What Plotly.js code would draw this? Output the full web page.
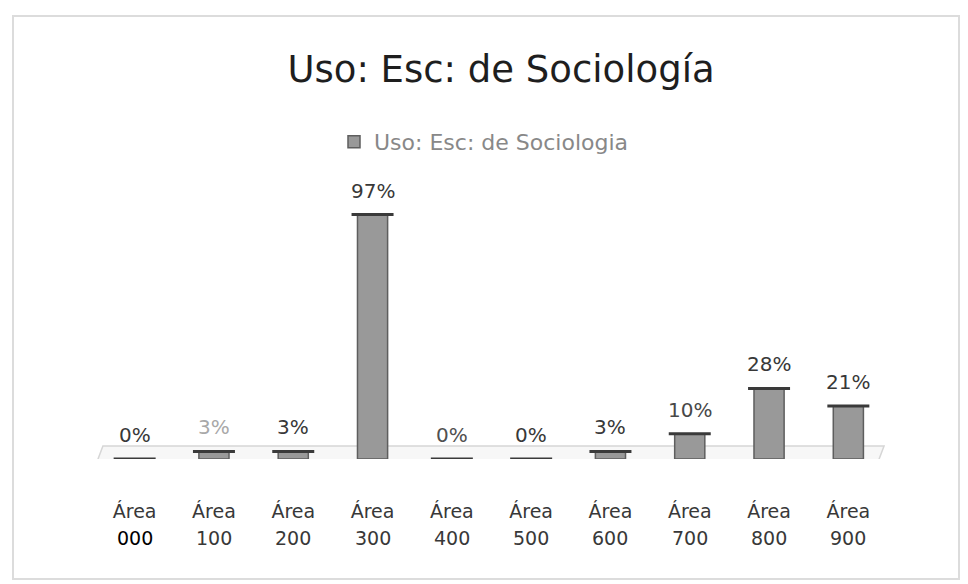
<!DOCTYPE html>
<html>
<head>
<meta charset="utf-8">
<script src="https://cdn.plot.ly/plotly-3.0.1.min.js"></script>
<style>
  body { margin: 0; background: #fff; }
  #wrap { position: relative; width: 968px; height: 584px; }
  #gd { width: 968px; height: 584px; }
  #frame { position: absolute; left: 12px; top: 15px; width: 944px; height: 561px;
           border: 2px solid #dcdcdc; pointer-events: none; }
</style>
</head>
<body>
<div id="wrap">
  <div id="gd"></div>
  <div id="frame"></div>
</div>
<script>
// data
const areas = ['000', '100', '200', '300', '400', '500', '600', '700', '800', '900'];
const usos = [0, 3, 3, 97, 0, 0, 3, 10, 28, 21];
const labelColors = ['#383838', '#a8a8a8', '#383838', '#383838', '#505050',
                     '#383838', '#383838', '#484848', '#383838', '#383838'];
const areaColors = ['#000000', '#383838', '#383838', '#383838', '#383838',
                    '#383838', '#383838', '#383838', '#383838', '#383838'];

const FONT = '"DejaVu Sans", sans-serif';
const categories = areas.map((a) => 'Área ' + a);
const serieName = 'Uso: Esc: de Sociologia';

const barTrace = {
    type: 'bar',
    name: serieName,
    x: categories,
    y: usos,
    width: 0.38,
    marker: { color: '#999999', line: { color: '#5e5e5e', width: 1.5 } },
    hoverinfo: 'x+y',
};

// flat top of each cylinder (also gives the dark disc on the 0% bars)
const capTrace = {
    type: 'scatter',
    mode: 'markers',
    x: categories,
    y: usos,
    showlegend: false,
    hoverinfo: 'skip',
    marker: { symbol: 'line-ew-open', size: 30, color: '#3a3a3a',
              line: { color: '#3a3a3a', width: 3 } },
};

const valueLabels = usos.map((v, i) => ({
    x: categories[i],
    y: v,
    xref: 'x',
    yref: 'y',
    text: v + '%',
    showarrow: false,
    yanchor: 'bottom',
    yshift: 10,
    font: { family: FONT, size: 20, color: labelColors[i] },
}));

// second line of the category labels (number under "Área")
const numberLabels = areas.map((a, i) => ({
    x: categories[i],
    y: 0,
    xref: 'x',
    yref: 'y',
    text: a,
    showarrow: false,
    yanchor: 'middle',
    yshift: -79,
    font: { family: FONT, size: 19, color: areaColors[i] },
}));

const layout = {
    width: 968,
    height: 584,
    margin: { l: 95, r: 80, t: 207, b: 125 },
    paper_bgcolor: '#ffffff',
    plot_bgcolor: 'rgba(0,0,0,0)',
    font: { family: FONT, color: '#383838' },
    title: {
        text: 'Uso: Esc: de Sociología',
        font: { family: FONT, size: 37, color: '#1e1e1e' },
        x: 501 / 968,
        xanchor: 'center',
        xref: 'container',
        y: 1 - 69 / 584,
        yanchor: 'middle',
        yref: 'container',
    },
    showlegend: true,
    legend: {
        orientation: 'h',
        xref: 'container',
        yref: 'container',
        x: 0.5,
        xanchor: 'center',
        y: 1 - 142 / 584,
        yanchor: 'middle',
        font: { family: FONT, size: 22, color: '#888888' },
        itemwidth: 30,
    },
    xaxis: {
        type: 'category',
        range: [-0.5, 9.5],
        tickvals: categories,
        ticktext: categories.map(() => 'Área'),
        showgrid: false,
        zeroline: false,
        showline: false,
        ticks: '',
        ticklabelstandoff: 39,
        tickfont: { family: FONT, size: 19, color: '#383838' },
        fixedrange: true,
    },
    yaxis: {
        range: [0, 100],
        visible: false,
        fixedrange: true,
    },
    shapes: [
        // floor of the 3D chart
        { type: 'path', xref: 'paper', yref: 'y', layer: 'below',
          path: 'M 0.01,5.2 L 0.995,5.2 L 0.985,-3.2 L 0.0,-3.2 Z',
          fillcolor: '#f7f7f7', line: { color: '#d6d6d6', width: 1.5 } },
    ],
    annotations: valueLabels.concat(numberLabels),
    bargap: 0.6,
};

Plotly.newPlot('gd', [barTrace, capTrace], layout, { displayModeBar: false, staticPlot: true });
</script>
</body>
</html>
